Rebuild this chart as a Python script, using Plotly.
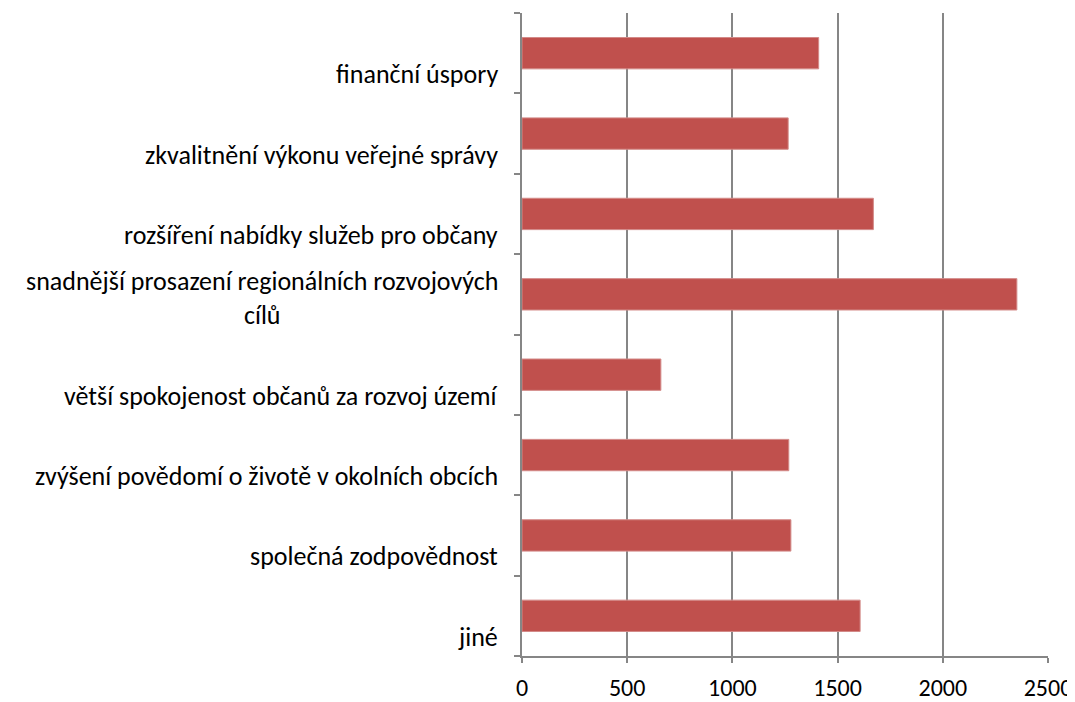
import plotly.graph_objects as go

categories = [
    "finanční úspory",
    "zkvalitnění výkonu veřejné správy",
    "rozšíření nabídky služeb pro občany",
    "snadnější prosazení regionálních rozvojových<br>cílů",
    "větší spokojenost občanů za rozvoj území",
    "zvýšení povědomí o životě v okolních obcích",
    "společná zodpovědnost",
    "jiné",
]
values = [1410, 1265, 1670, 2352, 660, 1268, 1278, 1607]
x_ticks = [0, 500, 1000, 1500, 2000, 2500]

FONT = "Carlito, Calibri, Lato, sans-serif"
GRID = "#868686"

fig = go.Figure()
fig.add_trace(go.Bar(
    y=list(range(len(categories))),
    x=values,
    orientation="h",
    marker=dict(color="#C0504D", line=dict(color="#D38A88", width=1)),
    width=0.39,
    showlegend=False,
    hoverinfo="x",
))

for i, label in enumerate(categories):
    fig.add_annotation(
        x=0, xref="paper", xanchor="right", xshift=-22,
        y=i, yref="y", yanchor="bottom", yshift=-39,
        text=label, showarrow=False, align="center",
        font=dict(family=FONT, size=26, color="#000000"),
    )

# page body has an 8px margin, so the figure is sized to end at the window edge
fig.update_layout(
    width=1067, height=694,
    margin=dict(l=514, r=27, t=5, b=46),
    paper_bgcolor="white", plot_bgcolor="white",
    font=dict(family=FONT, size=24, color="#000000"),
    xaxis=dict(
        range=[0, 2500], tickvals=x_ticks, ticktext=[str(v) for v in x_ticks],
        showgrid=True, gridcolor=GRID, gridwidth=1.5,
        showline=True, linecolor=GRID, linewidth=1.5,
        ticks="outside", ticklen=5, tickcolor=GRID, tickwidth=1.5,
        ticklabelstandoff=4, zeroline=False, automargin=False,
        tickfont=dict(family=FONT, size=24, color="#000000"),
    ),
    yaxis=dict(
        range=[len(categories) - 0.5, -0.5],
        tickvals=[i - 0.5 for i in range(len(categories) + 1)],
        showticklabels=False, automargin=False,
        showgrid=False, zeroline=False,
        showline=True, linecolor=GRID, linewidth=1.5,
        ticks="outside", ticklen=6, tickcolor=GRID, tickwidth=1.5,
    ),
)

fig.write_html("out.html")
